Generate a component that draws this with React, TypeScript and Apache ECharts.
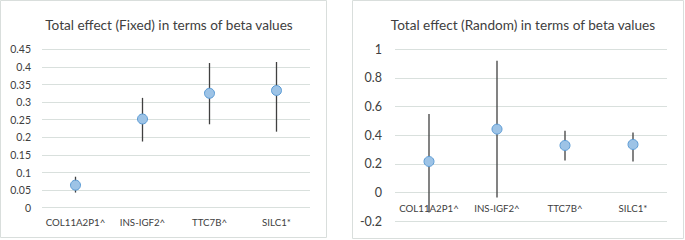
import React, { useEffect, useRef } from "react";
import * as echarts from "echarts";

const categories = ["COL11A2P1^", "INS-IGF2^", "TTC7B^", "SILC1*"];
const fixedBeta = [0.064, 0.252, 0.325, 0.333];
const fixedLow = [0.043, 0.188, 0.237, 0.216];
const fixedHigh = [0.088, 0.312, 0.411, 0.414];
const randomBeta = [0.216, 0.442, 0.328, 0.335];
const randomLow = [-0.14, -0.035, 0.223, 0.216];
const randomHigh = [0.547, 0.92, 0.43, 0.418];

const FONT = "Lato";
const TXT = "#404040";
const GRIDC = "#d9e0dd";

const R_TOP = 49.3;
const R_BOTTOM_PX = 221;
const R_MIN = -0.2;
const R_MAX = 1;

function errSeries(idx: number, low: number[], high: number[]) {
  return {
    type: "custom",
    xAxisIndex: idx,
    yAxisIndex: idx,
    silent: true,
    data: categories.map((c, i) => [i, low[i], high[i]]),
    renderItem: (params: any, api: any) => {
      const x = api.value(0);
      const a = api.coord([x, api.value(1)]);
      const b = api.coord([x, api.value(2)]);
      return {
        type: "line",
        shape: { x1: a[0], y1: a[1], x2: b[0], y2: b[1] },
        style: { stroke: "#404040", lineWidth: 1.3 },
      };
    },
    z: 2,
  };
}

function ptSeries(idx: number, vals: number[]) {
  return {
    type: "scatter",
    xAxisIndex: idx,
    yAxisIndex: idx,
    data: vals.map((v, i) => [i, v]),
    symbol: "circle",
    symbolSize: 10,
    itemStyle: { color: "#9dc3e6", borderColor: "#5b9bd5", borderWidth: 1, opacity: 1 },
    z: 3,
  };
}

export default function App() {
  const ref = useRef<HTMLDivElement>(null);
  useEffect(() => {
    const chart = echarts.init(ref.current!, undefined, { renderer: "svg" });
    const zeroShift = ((0 - R_MIN) / (R_MAX - R_MIN)) * (R_BOTTOM_PX - R_TOP);
    const xAxisBase = (gi: number, margin: number, offset: number) => ({
      type: "category",
      gridIndex: gi,
      data: categories,
      position: "bottom",
      offset,
      axisLine: { show: false, onZero: false },
      axisTick: { show: false },
      splitLine: { show: false },
      axisLabel: { color: TXT, fontFamily: FONT, fontSize: 9.7, margin, interval: 0 },
    });
    chart.setOption({
      animation: false,
      backgroundColor: "#ffffff",
      textStyle: { fontFamily: FONT },
      graphic: [
        {
          type: "rect",
          shape: { x: 0.5, y: 0.5, width: 326, height: 237 },
          style: { fill: "none", stroke: "#d9dedc", lineWidth: 1 },
          z: -1,
        },
        {
          type: "rect",
          shape: { x: 352.5, y: 0.5, width: 331, height: 238 },
          style: { fill: "none", stroke: "#d9dedc", lineWidth: 1 },
          z: -1,
        },
      ],
      title: [
        {
          text: "Total effect (Fixed) in terms of beta values",
          left: 164,
          top: 13,
          textAlign: "center",
          textStyle: { color: TXT, fontFamily: FONT, fontSize: 13.6, fontWeight: "normal" },
        },
        {
          text: "Total effect (Random) in terms of beta values",
          left: 518,
          top: 13,
          textAlign: "center",
          textStyle: { color: TXT, fontFamily: FONT, fontSize: 13.6, fontWeight: "normal" },
        },
      ],
      grid: [
        { left: 42, right: 375, top: 49.3, bottom: 32.3, containLabel: false },
        { left: 395, right: 18, top: R_TOP, bottom: 240 - R_BOTTOM_PX, containLabel: false },
      ],
      xAxis: [xAxisBase(0, 9, 0), xAxisBase(1, 11, -zeroShift)],
      yAxis: [
        {
          type: "value",
          gridIndex: 0,
          min: 0,
          max: 0.45,
          interval: 0.05,
          axisLine: { show: false },
          axisTick: { show: false },
          splitLine: { lineStyle: { color: GRIDC, width: 1 } },
          axisLabel: {
            color: TXT,
            fontFamily: FONT,
            fontSize: 10.5,
            margin: 11,
            formatter: (v: number) => String(+v.toFixed(2)),
          },
        },
        {
          type: "value",
          gridIndex: 1,
          min: R_MIN,
          max: R_MAX,
          interval: 0.2,
          axisLine: { show: false },
          axisTick: { show: false },
          splitLine: { lineStyle: { color: GRIDC, width: 1 } },
          axisLabel: {
            color: TXT,
            fontFamily: FONT,
            fontSize: 12.5,
            margin: 13,
            formatter: (v: number) => String(+v.toFixed(1)),
          },
        },
      ],
      series: [
        errSeries(0, fixedLow, fixedHigh),
        ptSeries(0, fixedBeta),
        errSeries(1, randomLow, randomHigh),
        ptSeries(1, randomBeta),
      ],
    });
    return () => chart.dispose();
  }, []);
  return (
    <div
      ref={ref}
      style={{ position: "absolute", left: 0, top: 0, width: 685, height: 240 }}
    />
  );
}
